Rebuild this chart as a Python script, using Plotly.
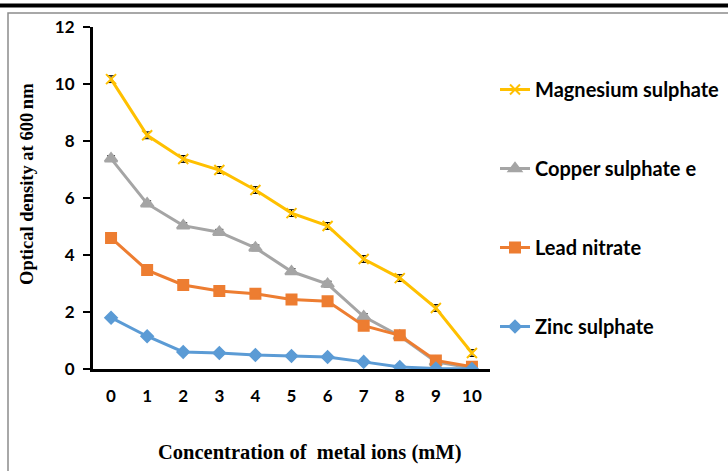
import plotly.graph_objects as go

concentration = [0, 1, 2, 3, 4, 5, 6, 7, 8, 9, 10]
tick_labels = ["0", "1", "2", "3", "4", "5", "6", "7", "8", "9", "10"]
magnesium = [10.17, 8.2, 7.37, 6.98, 6.28, 5.47, 5.02, 3.86, 3.19, 2.14, 0.56]
copper = [7.38, 5.8, 5.03, 4.8, 4.25, 3.42, 2.98, 1.84, 1.16, 0.25, 0.03]
lead = [4.6, 3.47, 2.95, 2.74, 2.64, 2.44, 2.38, 1.52, 1.18, 0.3, 0.08]
zinc = [1.8, 1.15, 0.6, 0.56, 0.49, 0.46, 0.42, 0.25, 0.07, 0.02, 0.0]
err_mg = [0.12] * 11
err_cu = [0.1] * 11
err_pb = [0.06] * 11
err_zn = [0.06] * 11

series = [
    ("Magnesium sulphate", magnesium, err_mg, "#FFC000", "x-thin", 10),
    ("Copper sulphate e", copper, err_cu, "#A5A5A5", "triangle-up", 11),
    ("Lead nitrate", lead, err_pb, "#ED7D31", "square", 10),
    ("Zinc sulphate", zinc, err_zn, "#5B9BD5", "diamond", 9),
]

fig = go.Figure()
for i, (name, vals, err, color, sym, size) in enumerate(series):
    fig.add_trace(go.Scatter(
        x=concentration, y=vals, name=name, mode="lines+markers",
        line=dict(color=color, width=3),
        marker=dict(symbol=sym, size=size, color=color,
                    line=dict(color=color, width=2)),
        error_y=dict(type="data", array=err, visible=True,
                     color="black", thickness=1, width=4),
        legendgroup="g%d" % i,
    ))

L, R, T, B = 93, 238, 27, 102
W, H = 728, 471
pw, ph = W - L - R, H - T - B

def px(x):
    return (x - L) / pw

def py(y):
    return (H - B - y) / ph

tick_font = dict(family="Lato", size=17, color="black", weight="bold")
title_font = dict(family="Liberation Serif", color="black", weight="bold")

fig.update_layout(
    width=W, height=H,
    margin=dict(l=L, r=R, t=T, b=B, autoexpand=False),
    paper_bgcolor="white", plot_bgcolor="white",
    showlegend=True,
    legend=dict(x=px(495), y=py(70), xanchor="left", yanchor="top",
                font=dict(family="Lato", size=20, color="black", weight="bold"),
                tracegroupgap=50, bgcolor="rgba(0,0,0,0)"),
    xaxis=dict(range=[-0.5, 10.5], tickmode="array", tickvals=concentration,
               ticktext=tick_labels, showgrid=False, zeroline=False,
               showline=True, linecolor="black", linewidth=3, ticks="",
               ticklabelstandoff=10, tickfont=tick_font),
    yaxis=dict(range=[0, 12], tickvals=[0, 2, 4, 6, 8, 10, 12], showgrid=False,
               zeroline=False, showline=True, linecolor="black", linewidth=3,
               ticks="outside", ticklen=7, tickwidth=2, tickcolor="black",
               ticklabelstandoff=5, tickfont=tick_font),
    annotations=[
        dict(text="Concentration of  metal ions (mM)", xref="paper", yref="paper",
             x=px(309), y=py(453), xanchor="center", yanchor="middle",
             showarrow=False, font=dict(size=20.5, **title_font)),
        dict(text="Optical density at 600\u2009nm", xref="paper", yref="paper",
             x=px(27), y=py(184), xanchor="center", yanchor="middle",
             textangle=-90, showarrow=False, font=dict(size=18.5, **title_font)),
    ],
    shapes=[
        dict(type="rect", xref="paper", yref="paper",
             x0=px(8), x1=px(740), y0=py(13), y1=py(480),
             line=dict(color="#8c8c8c", width=1.5), layer="below"),
        dict(type="line", xref="paper", yref="paper",
             x0=px(0), x1=px(728), y0=py(5.5), y1=py(5.5),
             line=dict(color="black", width=4)),
    ],
)

fig.write_html("out.html")
